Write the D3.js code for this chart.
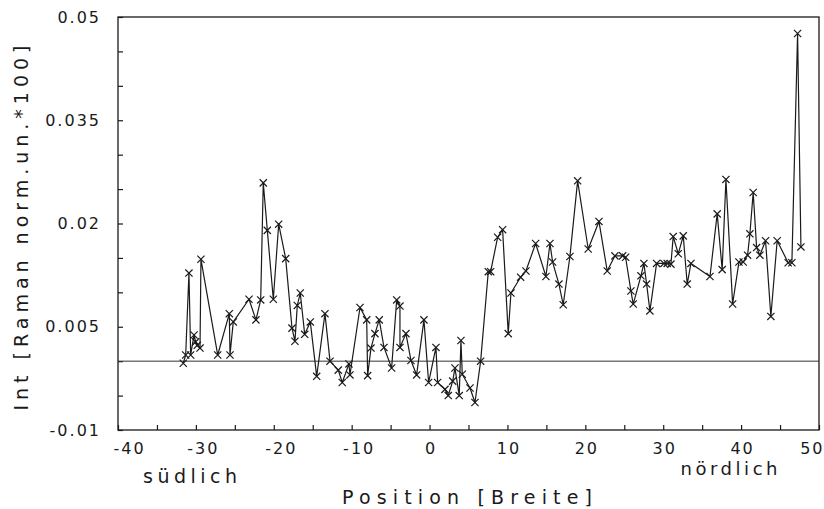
<!DOCTYPE html>
<html>
<head>
<meta charset="utf-8">
<script src="https://cdn.jsdelivr.net/npm/d3@7"></script>
<style>
  html, body { margin: 0; padding: 0; background: #fff; }
  svg { display: block; }
  text { font-family: "DejaVu Sans", sans-serif; fill: #1a1a1a; }
</style>
</head>
<body>
<div id="chart"></div>
<script>
const positions = [
  -31.62, -31.31, -30.89, -30.67, -30.24, -30.03, -29.82, -29.47, -29.35, -27.20,
  -25.71, -25.62, -25.20, -23.18, -22.29, -21.68, -21.35, -20.83, -20.06, -19.37,
  -18.47, -17.66, -17.28, -16.98, -16.60, -16.03, -15.31, -14.49, -13.43, -12.78,
  -11.72, -11.21, -10.35, -10.22, -8.93, -8.07, -7.95, -7.52, -7.01, -6.46,
  -5.85, -4.87, -4.22, -3.80, -3.80, -3.03, -2.39, -1.66, -0.72, -0.12,
  0.82, 1.04, 1.98, 2.40, 2.97, 3.26, 3.81, 4.03, 4.20, 5.19,
  5.83, 6.56, 7.54, 7.84, 8.74, 9.38, 10.10, 10.45, 11.69, 12.37,
  13.62, 14.94, 15.46, 15.80, 16.61, 17.16, 18.02, 19.01, 20.37, 21.75,
  22.81, 23.80, 24.79, 25.17, 25.85, 26.15, 27.14, 27.52, 27.87, 28.29,
  29.15, 30.09, 30.51, 30.99, 31.28, 31.93, 32.57, 33.08, 33.56, 36.00,
  36.93, 37.57, 38.05, 38.91, 39.72, 40.27, 40.83, 41.13, 41.55, 41.99,
  42.41, 43.14, 43.82, 44.63, 46.04, 46.52, 47.25, 47.68
];

// Int [Raman norm.un.*100]
const intensity = [
  -0.0003, 0.0009, 0.0128, 0.0009, 0.0038, 0.0028, 0.0023, 0.0019, 0.0148, 0.0009,
  0.0069, 0.0009, 0.0057, 0.0090, 0.0060, 0.0089, 0.0259, 0.0190, 0.0090, 0.0199,
  0.0149, 0.0048, 0.0029, 0.0081, 0.0099, 0.0039, 0.0057, -0.0022, 0.0069, 0.0000,
  -0.0013, -0.0031, -0.0004, -0.0020, 0.0078, 0.0060, -0.0021, 0.0019, 0.0040, 0.0060,
  0.0020, -0.0010, 0.0089, 0.0080, 0.0020, 0.0040, 0.0001, -0.0020, 0.0060, -0.0031,
  0.0020, -0.0031, -0.0041, -0.0050, -0.0029, -0.0010, -0.0050, 0.0030, -0.0019, -0.0039,
  -0.0060, 0.0000, 0.0130, 0.0130, 0.0180, 0.0191, 0.0040, 0.0099, 0.0122, 0.0131,
  0.0171, 0.0123, 0.0171, 0.0144, 0.0112, 0.0082, 0.0152, 0.0262, 0.0163, 0.0203,
  0.0131, 0.0153, 0.0153, 0.0151, 0.0102, 0.0083, 0.0124, 0.0142, 0.0112, 0.0073,
  0.0142, 0.0142, 0.0142, 0.0141, 0.0181, 0.0156, 0.0182, 0.0112, 0.0142, 0.0123,
  0.0214, 0.0133, 0.0264, 0.0083, 0.0144, 0.0144, 0.0154, 0.0185, 0.0245, 0.0165,
  0.0154, 0.0175, 0.0065, 0.0175, 0.0143, 0.0143, 0.0476, 0.0166
];

const xTicks = d3.range(-40, 51, 5);
const xLabels = [-40, -30, -20, -10, 0, 10, 20, 30, 40, 50];
const yTicksK = d3.range(-2, 11);          // multiples of 0.005
const yLabels = ['-0.01', '0.005', '0.02', '0.035', '0.05'];

const data = positions.map((p, i) => ({ x: p, y: intensity[i] }));

const W = 824, H = 509;
const margin = { top: 17, right: 5, bottom: 79, left: 118 };
const width  = W - margin.left - margin.right;
const height = H - margin.top - margin.bottom;

const svg = d3.select('#chart')
  .append('svg')
  .attr('width', W)
  .attr('height', H);

const g = svg.append('g')
  .attr('transform', `translate(${margin.left},${margin.top})`);

const x = d3.scaleLinear().domain([-40, 50]).range([0, width]);
const y = d3.scaleLinear().domain([-0.01, 0.05]).range([height, 0]);

// x axis, ticks pointing inward
const xAxis = g.append('g')
  .attr('transform', `translate(0,${height})`)
  .call(
    d3.axisBottom(x)
      .tickValues(xTicks)
      .tickSize(-5)
      .tickSizeOuter(0)
      .tickPadding(13)
      .tickFormat(d => xLabels.includes(d) ? String(d) : '')
  );
xAxis.select('.domain').remove();
xAxis.selectAll('line').attr('stroke', '#1a1a1a').attr('stroke-width', 1.2);
xAxis.selectAll('text')
  .attr('font-size', 16)
  .attr('letter-spacing', 2)
  .attr('fill', '#1a1a1a')
  .attr('dx', d => d === -40 ? 11 : d < 0 ? 7 : 1)
  .style('font-family', '"DejaVu Sans", sans-serif');
xAxis.selectAll('.tick')
  .filter(d => d === 50)
  .select('text')
  .attr('text-anchor', 'end')
  .attr('dx', 5);

// y axis, ticks pointing inward
const yAxis = g.append('g')
  .call(
    d3.axisLeft(y)
      .tickValues(yTicksK.map(k => k * 0.005))
      .tickSize(-5)
      .tickSizeOuter(0)
      .tickPadding(17)
      .tickFormat((d, i) => (yTicksK[i] + 2) % 3 === 0 ? yLabels[(yTicksK[i] + 2) / 3] : '')
  );
yAxis.select('.domain').remove();
yAxis.selectAll('line').attr('stroke', '#1a1a1a').attr('stroke-width', 1.2);
yAxis.selectAll('text')
  .attr('font-size', 16)
  .attr('letter-spacing', 2)
  .attr('fill', '#1a1a1a')
  .style('font-family', '"DejaVu Sans", sans-serif');

// frame
g.append('rect')
  .attr('x', 0).attr('y', 0)
  .attr('width', width).attr('height', height)
  .attr('fill', 'none')
  .attr('stroke', '#1a1a1a')
  .attr('stroke-width', 1.3);

// zero line
g.append('line')
  .attr('x1', 0).attr('x2', width)
  .attr('y1', y(0)).attr('y2', y(0))
  .attr('stroke', '#333')
  .attr('stroke-width', 1);

// data line
const line = d3.line().x(d => x(d.x)).y(d => y(d.y));
g.append('path')
  .datum(data)
  .attr('d', line)
  .attr('fill', 'none')
  .attr('stroke', '#1a1a1a')
  .attr('stroke-width', 1.2)
  .attr('stroke-linejoin', 'round');

// x markers
const s = 3.6;
g.selectAll('.mark')
  .data(data)
  .join('path')
  .attr('class', 'mark')
  .attr('transform', d => `translate(${x(d.x)},${y(d.y)})`)
  .attr('d', `M${-s},${-s}L${s},${s}M${-s},${s}L${s},${-s}`)
  .attr('stroke', '#1a1a1a')
  .attr('stroke-width', 1.2)
  .attr('fill', 'none');

// labels
svg.append('text')
  .attr('x', 190).attr('y', 483)
  .attr('text-anchor', 'middle')
  .attr('font-size', 19)
  .attr('textLength', 94)
  .attr('lengthAdjust', 'spacing')
  .text('südlich');

svg.append('text')
  .attr('x', 729).attr('y', 475)
  .attr('text-anchor', 'middle')
  .attr('font-size', 18)
  .attr('textLength', 97)
  .attr('lengthAdjust', 'spacing')
  .text('nördlich');

svg.append('text')
  .attr('x', 467).attr('y', 504)
  .attr('text-anchor', 'middle')
  .attr('font-size', 19)
  .attr('textLength', 250)
  .attr('lengthAdjust', 'spacing')
  .text('Position [Breite]');

svg.append('text')
  .attr('transform', 'translate(28,228) rotate(-90)')
  .attr('text-anchor', 'middle')
  .attr('font-size', 19)
  .attr('textLength', 365)
  .attr('lengthAdjust', 'spacing')
  .text('Int [Raman norm.un.*100]');
</script>
</body>
</html>
